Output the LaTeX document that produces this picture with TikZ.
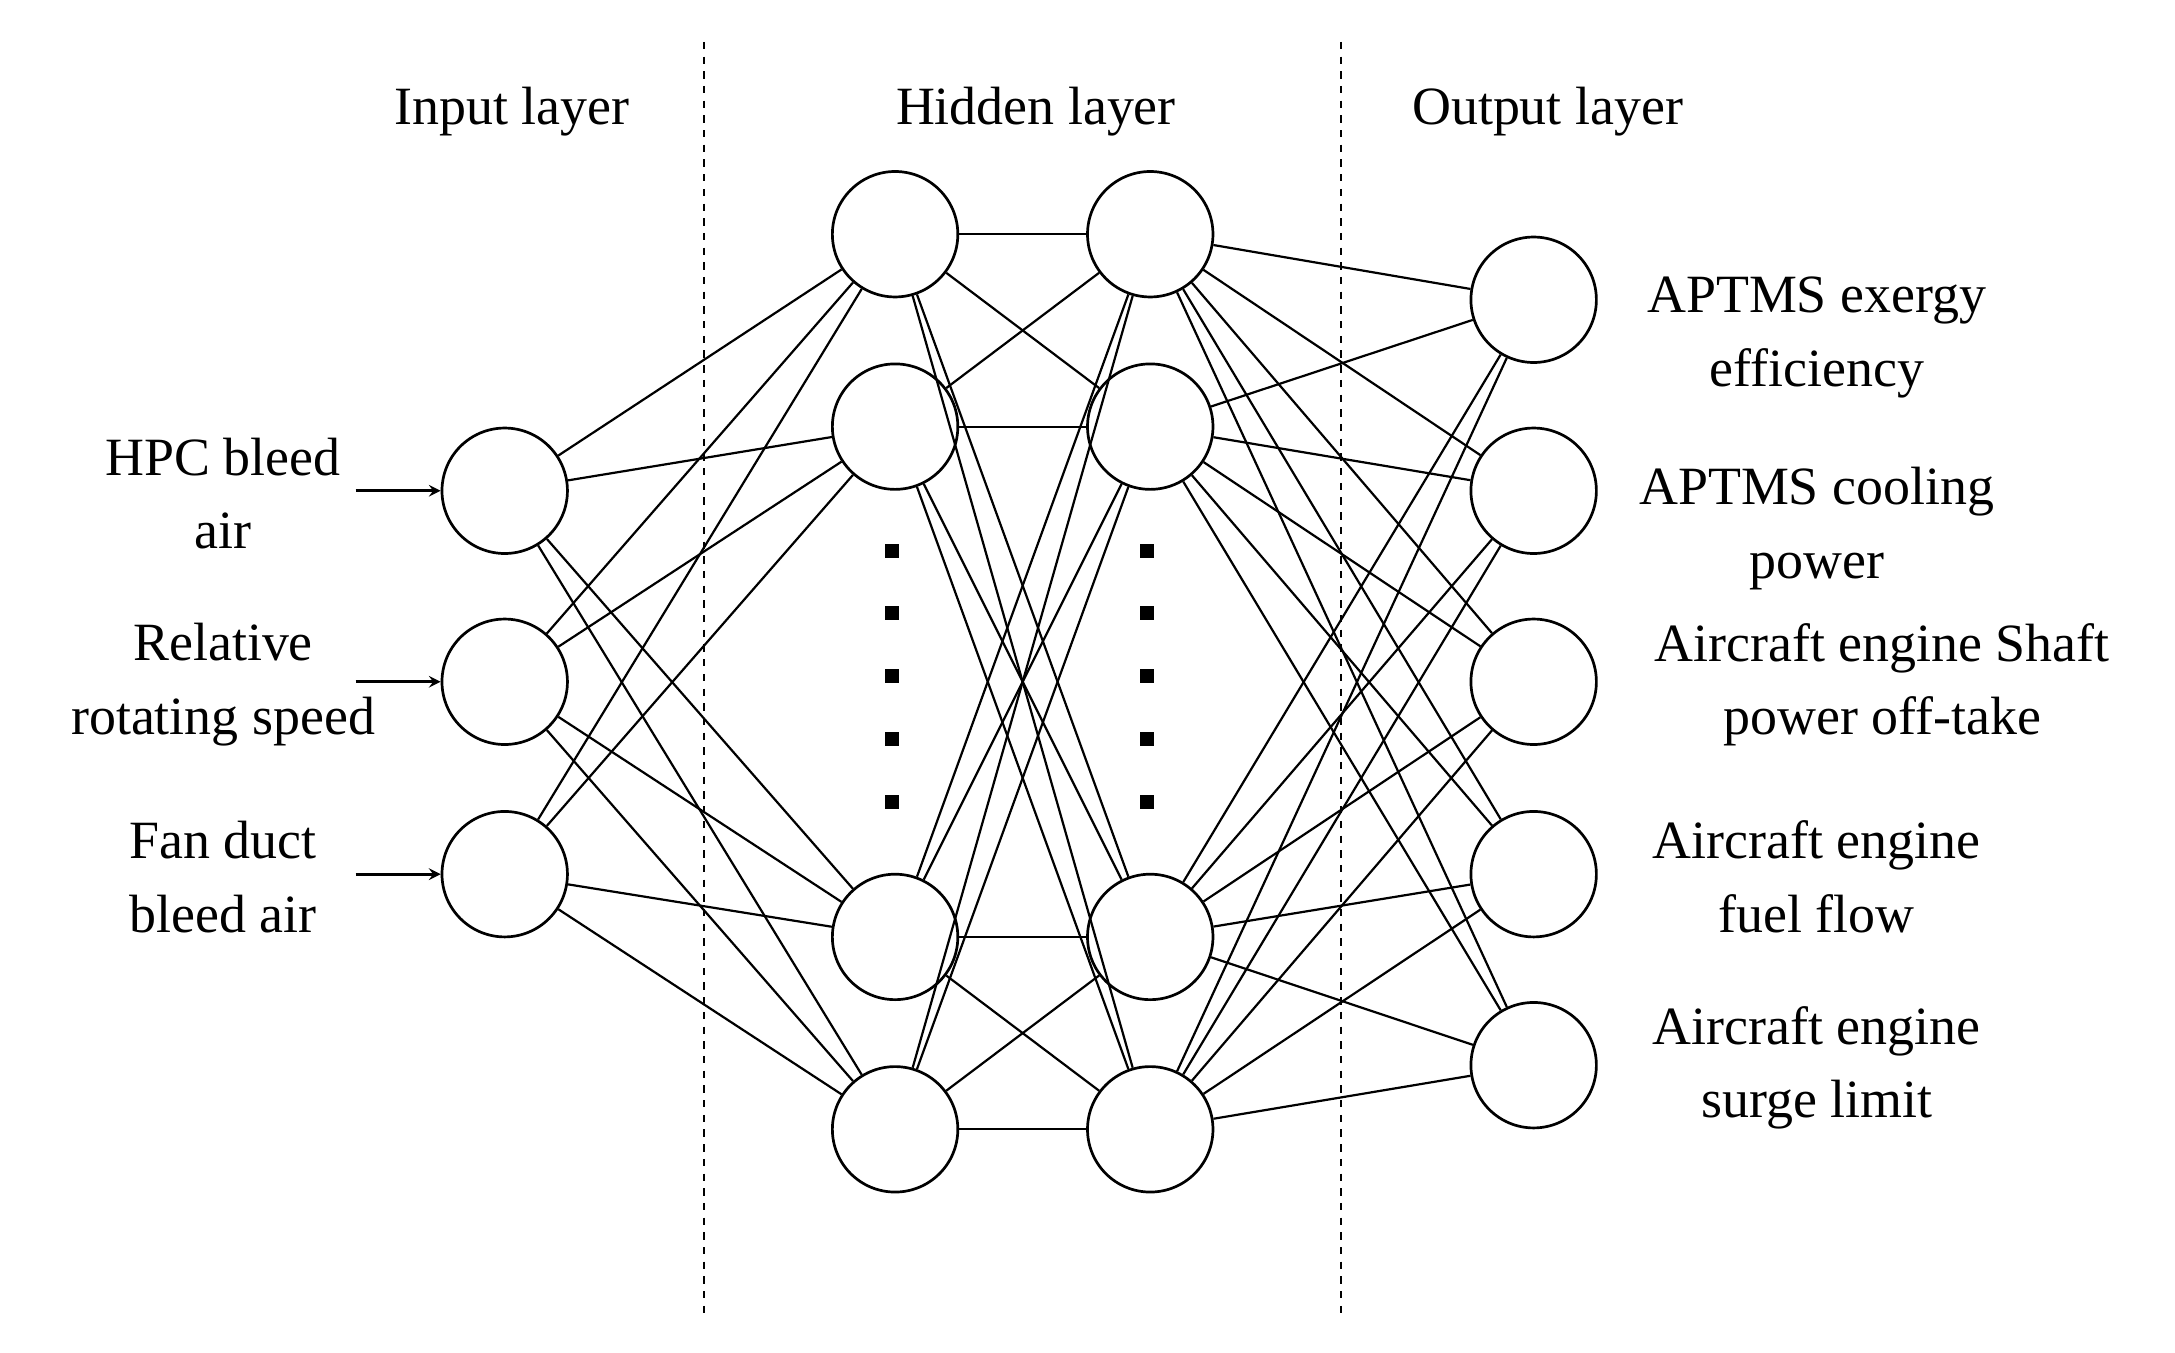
\documentclass[tikz,border=0pt]{standalone}
\usepackage{fontspec}
\setmainfont{Liberation Serif}
\begin{document}
\begin{tikzpicture}[x=0.02cm,y=-0.02cm,
  neuron/.style={circle,draw,line width=1.1pt,minimum size=1.8cm,inner sep=0pt},
  conn/.style={line width=0.9pt},
  lbl/.style={font=\fontsize{22}{30}\selectfont,align=center},
  sep/.style={dashed,line width=1pt},
  dot/.style={fill=black,minimum size=0.2cm,inner sep=0pt}]
\useasboundingbox (0,0) rectangle (1560,970);
\draw[sep] (505,30) coordinate (s1a) -- (505,945) coordinate (s1b);
\draw[sep] (962,30) coordinate (s2a) -- (962,945) coordinate (s2b);
\node[lbl] (tin) at (367,80) {Input layer};
\node[lbl] (thid) at (743,80) {Hidden layer};
\node[lbl] (tout) at (1110,80) {Output layer};
\foreach \i/\y in {1/352,2/489,3/627} \node[neuron] (i\i) at (362,\y) {};
\foreach \i/\y in {1/168,2/306,3/672,4/810} {
  \node[neuron] (a\i) at (642,\y) {};
  \node[neuron] (b\i) at (825,\y) {};}
\foreach \i/\y in {1/215,2/352,3/489,4/627,5/764} \node[neuron] (o\i) at (1100,\y) {};
\foreach \k/\y in {1/395,2/440,3/485,4/530,5/575} {
  \node[dot] (da\k) at (640,\y) {};
  \node[dot] (db\k) at (823,\y) {};}
\foreach \i in {1,2,3} \foreach \j in {1,...,4} \draw[conn] (i\i) -- (a\j);
\foreach \i in {1,...,4} \foreach \j in {1,...,4} \draw[conn] (a\i) -- (b\j);
\foreach \i in {1,...,4} \foreach \j in {1,...,5} \draw[conn] (b\i) -- (o\j);
\node[lbl] (l1) at (160,354) {HPC bleed\\air};
\node[lbl] (l2) at (160,491) {Relative\\rotating speed};
\node[lbl] (l3) at (160,629) {Fan duct\\bleed air};
\foreach \i/\y in {1/352,2/489,3/627} {
  \coordinate (st\i) at (255,\y);
  \draw[->,line width=1.1pt,>=stealth] (st\i) -- (i\i);}
\node[lbl] (r1) at (1303,242) {APTMS exergy\\efficiency};
\node[lbl] (r2) at (1303,379) {APTMS cooling\\power};
\node[lbl] (r3) at (1350,491) {Aircraft engine Shaft\\power off-take};
\node[lbl] (r4) at (1303,629) {Aircraft engine\\fuel flow};
\node[lbl] (r5) at (1303,766) {Aircraft engine\\surge limit};
\end{tikzpicture}
\end{document}
